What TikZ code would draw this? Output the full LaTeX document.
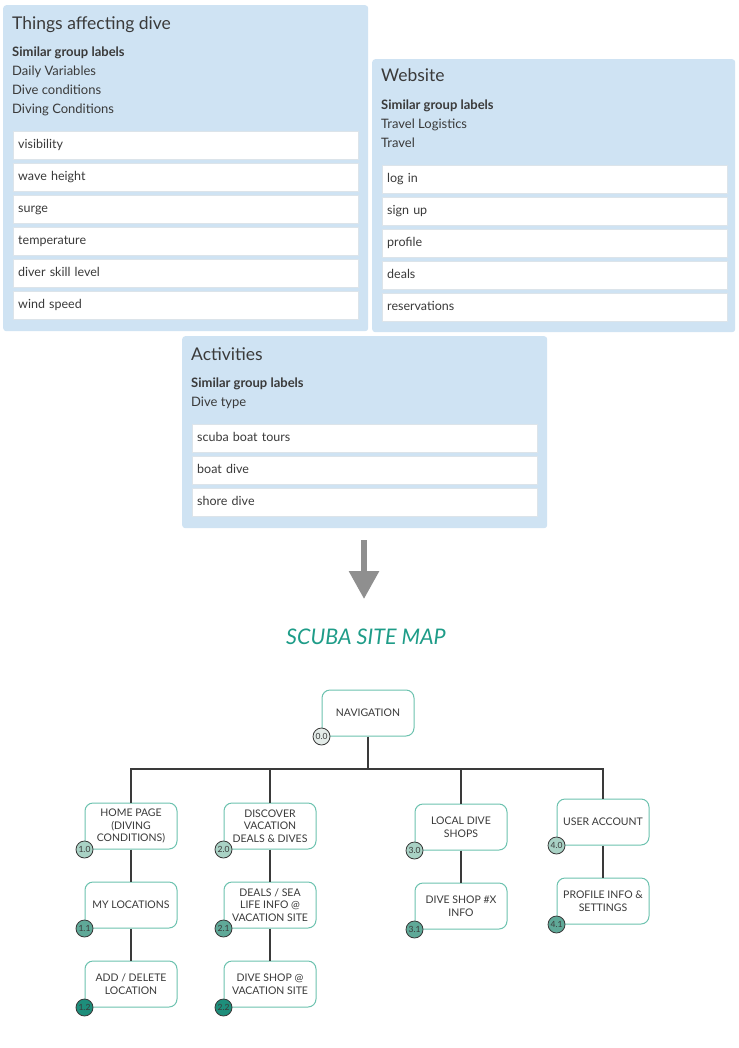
\documentclass[tikz,border=0pt]{standalone}
\usepackage{fontspec}
\setmainfont{Lato}
\usetikzlibrary{arrows.meta,positioning}
\definecolor{cardblue}{HTML}{CFE3F3}
\definecolor{itemline}{HTML}{DCE4EA}
\definecolor{ink}{HTML}{3A3A3A}
\definecolor{mapteal}{HTML}{1E9C88}
\definecolor{boxteal}{HTML}{6CC2AF}
\definecolor{lvlnav}{HTML}{E3EBE8}
\definecolor{lvlzero}{HTML}{A9D2C5}
\definecolor{lvlone}{HTML}{5FA998}
\definecolor{lvltwo}{HTML}{1E8E7B}
\definecolor{arrowgray}{HTML}{8F8F8F}
\begin{document}
\begin{tikzpicture}[x=1pt,y=-1pt,
 card/.style={fill=cardblue,rounded corners=3pt,anchor=north west,inner sep=0pt},
 cardtitle/.style={anchor=base west,inner sep=0pt,text=ink,font=\fontsize{17.5}{20}\selectfont},
 cardhead/.style={anchor=base west,inner sep=0pt,text=ink,font=\fontsize{13}{15}\bfseries\selectfont},
 cardline/.style={anchor=base west,inner sep=0pt,text=ink,font=\fontsize{13}{15}\selectfont},
 item/.style={anchor=north west,fill=white,draw=itemline,minimum width=345pt,minimum height=28pt,text width=335pt,inner xsep=5pt,align=left,text height=9pt,text depth=2.5pt,text=ink,font=\fontsize{12.5}{14}\selectfont},
 page/.style={draw=boxteal,line width=1pt,rounded corners=8pt,fill=white,minimum width=92pt,minimum height=46pt,align=center,inner sep=2pt,text=ink,font=\fontsize{10.5}{12.5}\selectfont},
 badge/.style={circle,draw=ink,line width=0.8pt,minimum size=17pt,inner sep=0pt,text=ink,font=\fontsize{8.5}{8.5}\selectfont},
 link/.style={draw=ink,line width=1.3pt},
 node distance=32pt]
 \useasboundingbox (0,0) rectangle (738,1048);
 \node[card,minimum width=365pt,minimum height=326pt] (dive) at (3,5) {};
 \node[card,minimum width=363pt,minimum height=273pt] (web) at (372,59) {};
 \node[card,minimum width=365pt,minimum height=192pt] (acts) at (182,336) {};
 \node[cardtitle] (divetitle) at (12,30) {Things affecting dive};
 \node[cardhead] (divehead) at (12,57) {Similar group labels};
 \foreach \t [count=\i] in {Daily Variables,Dive conditions,Diving Conditions}
  \node[cardline] (divelabel\i) at (12,{57+19*\i}) {\t};
 \foreach \t [count=\i] in {visibility,wave height,surge,temperature,diver skill level,wind speed}
  \node[item] (diveitem\i) at (13,{99+32*\i}) {\t};
 \node[cardtitle] (webtitle) at (381,82) {Website};
 \node[cardhead] (webhead) at (381,110) {Similar group labels};
 \foreach \t [count=\i] in {Travel Logistics,Travel}
  \node[cardline] (weblabel\i) at (381,{110+19*\i}) {\t};
 \foreach \t [count=\i] in {log in,sign up,profile,deals,reservations}
  \node[item] (webitem\i) at (382,{133+32*\i}) {\t};
 \node[cardtitle] (actstitle) at (191,360) {Activities};
 \node[cardhead] (actshead) at (191,387) {Similar group labels};
 \node[cardline] (actslabel1) at (191,406) {Dive type};
 \foreach \t [count=\i] in {scuba boat tours,boat dive,shore dive}
  \node[item] (actsitem\i) at (192,{392+32*\i}) {\t};
 \coordinate (arrowtail) at (364,540);
 \coordinate (arrowtip) at (364,599);
 \draw[draw=arrowgray,line width=6pt,-{Triangle[width=29pt,length=28pt]}] (arrowtail) -- (arrowtip);
 \node[text=mapteal,font=\fontsize{21.5}{24}\itshape\selectfont] (maptitle) at (366,637) {SCUBA SITE MAP};
 \node[page] (nav) at (368,713) {NAVIGATION};
 \node[page] (home) at (131,826) {HOME PAGE\\(DIVING\\CONDITIONS)};
 \node[page,below=of home] (myloc) {MY LOCATIONS};
 \node[page,below=of myloc] (adddel) {ADD / DELETE\\LOCATION};
 \node[page] (discover) at (270,826) {DISCOVER\\VACATION\\DEALS \& DIVES};
 \node[page,below=of discover] (deals) {DEALS / SEA\\LIFE INFO @\\VACATION SITE};
 \node[page,below=of deals] (siteshop) {DIVE SHOP @\\VACATION SITE};
 \node[page] (local) at (461,827) {LOCAL DIVE\\SHOPS};
 \node[page,below=of local] (shopx) {DIVE SHOP \#X\\INFO};
 \node[page] (user) at (603,822) {USER ACCOUNT};
 \node[page,below=of user] (profile) {PROFILE INFO \&\\SETTINGS};
 \coordinate (bus) at (368,769);
 \draw[link] (nav) -- (bus);
 \foreach \n in {home,discover,local,user}
  \draw[link] (\n.north) |- (bus);
 \draw[link] (home) -- (myloc);
 \draw[link] (myloc) -- (adddel);
 \draw[link] (discover) -- (deals);
 \draw[link] (deals) -- (siteshop);
 \draw[link] (local) -- (shopx);
 \draw[link] (user) -- (profile);
 \foreach \n/\l/\c in {nav/0.0/lvlnav,home/1.0/lvlzero,myloc/1.1/lvlone,adddel/1.2/lvltwo,discover/2.0/lvlzero,deals/2.1/lvlone,siteshop/2.2/lvltwo,local/3.0/lvlzero,shopx/3.1/lvlone,user/4.0/lvlzero,profile/4.1/lvlone}
  \node[badge,fill=\c] (badge\n) at (\n.south west) {\l};
\end{tikzpicture}
\end{document}
